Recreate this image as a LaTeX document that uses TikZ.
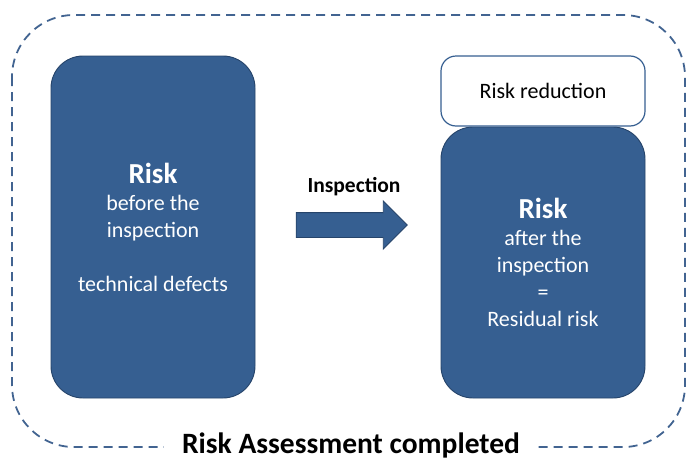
\documentclass[tikz,border=0pt]{standalone}
\usepackage{fontspec}
\setmainfont{Carlito}
\definecolor{riskblue}{RGB}{54,95,145}
\definecolor{riskedge}{RGB}{38,68,106}
\definecolor{frameblue}{RGB}{66,100,145}
\usetikzlibrary{shapes.arrows, positioning}

\begin{document}
\begin{tikzpicture}[x=1pt, y=-1pt,
    riskbox/.style={draw=riskedge, fill=riskblue, line width=0.9pt,
      rounded corners=32pt, text=white, align=center,
      minimum width=204pt, font=\fontsize{22}{27}\selectfont},
    notebox/.style={draw=riskblue, fill=white, line width=1.2pt,
      rounded corners=15pt, minimum width=204pt, minimum height=70pt,
      font=\fontsize{22}{26}\selectfont},
    title/.style={font=\fontsize{29}{32}\selectfont\bfseries}]
  \useasboundingbox (0,0) rectangle (686,461);
  % outer frame
  \draw[frameblue, line width=1.8pt, dash pattern=on 9pt off 6pt,
    rounded corners=62pt] (12,15) rectangle (685,447);
  % boxes
  \node[riskbox, minimum height=342pt] (before) at (153,227)
    {{\fontsize{29}{33}\selectfont\bfseries Risk}\\before the\\inspection\\[27pt]technical defects};
  \node[riskbox, minimum height=271pt] (after) at (543,262.5)
    {{\fontsize{29}{33}\selectfont\bfseries Risk}\\after the\\inspection\\=\\Residual risk};
  \node[notebox] (reduction) at (543,91) {Risk reduction};
  % inspection arrow
  \node[single arrow, draw=riskedge, fill=riskblue, line width=0.9pt,
    inner xsep=0pt, inner ysep=12pt, minimum height=111pt,
    single arrow head extend=11.5pt] (insparrow) at (345.5,225) {};
  \node[font=\fontsize{21.5}{24}\selectfont\bfseries] (insplabel)
    at (354,187) {Inspection};
  % frame label
  \node[fill=white, inner xsep=18pt, anchor=base, font=\fontsize{29.5}{33}\selectfont\bfseries]
    (done) at (351,453.5) {Risk Assessment completed};
\end{tikzpicture}
\end{document}
